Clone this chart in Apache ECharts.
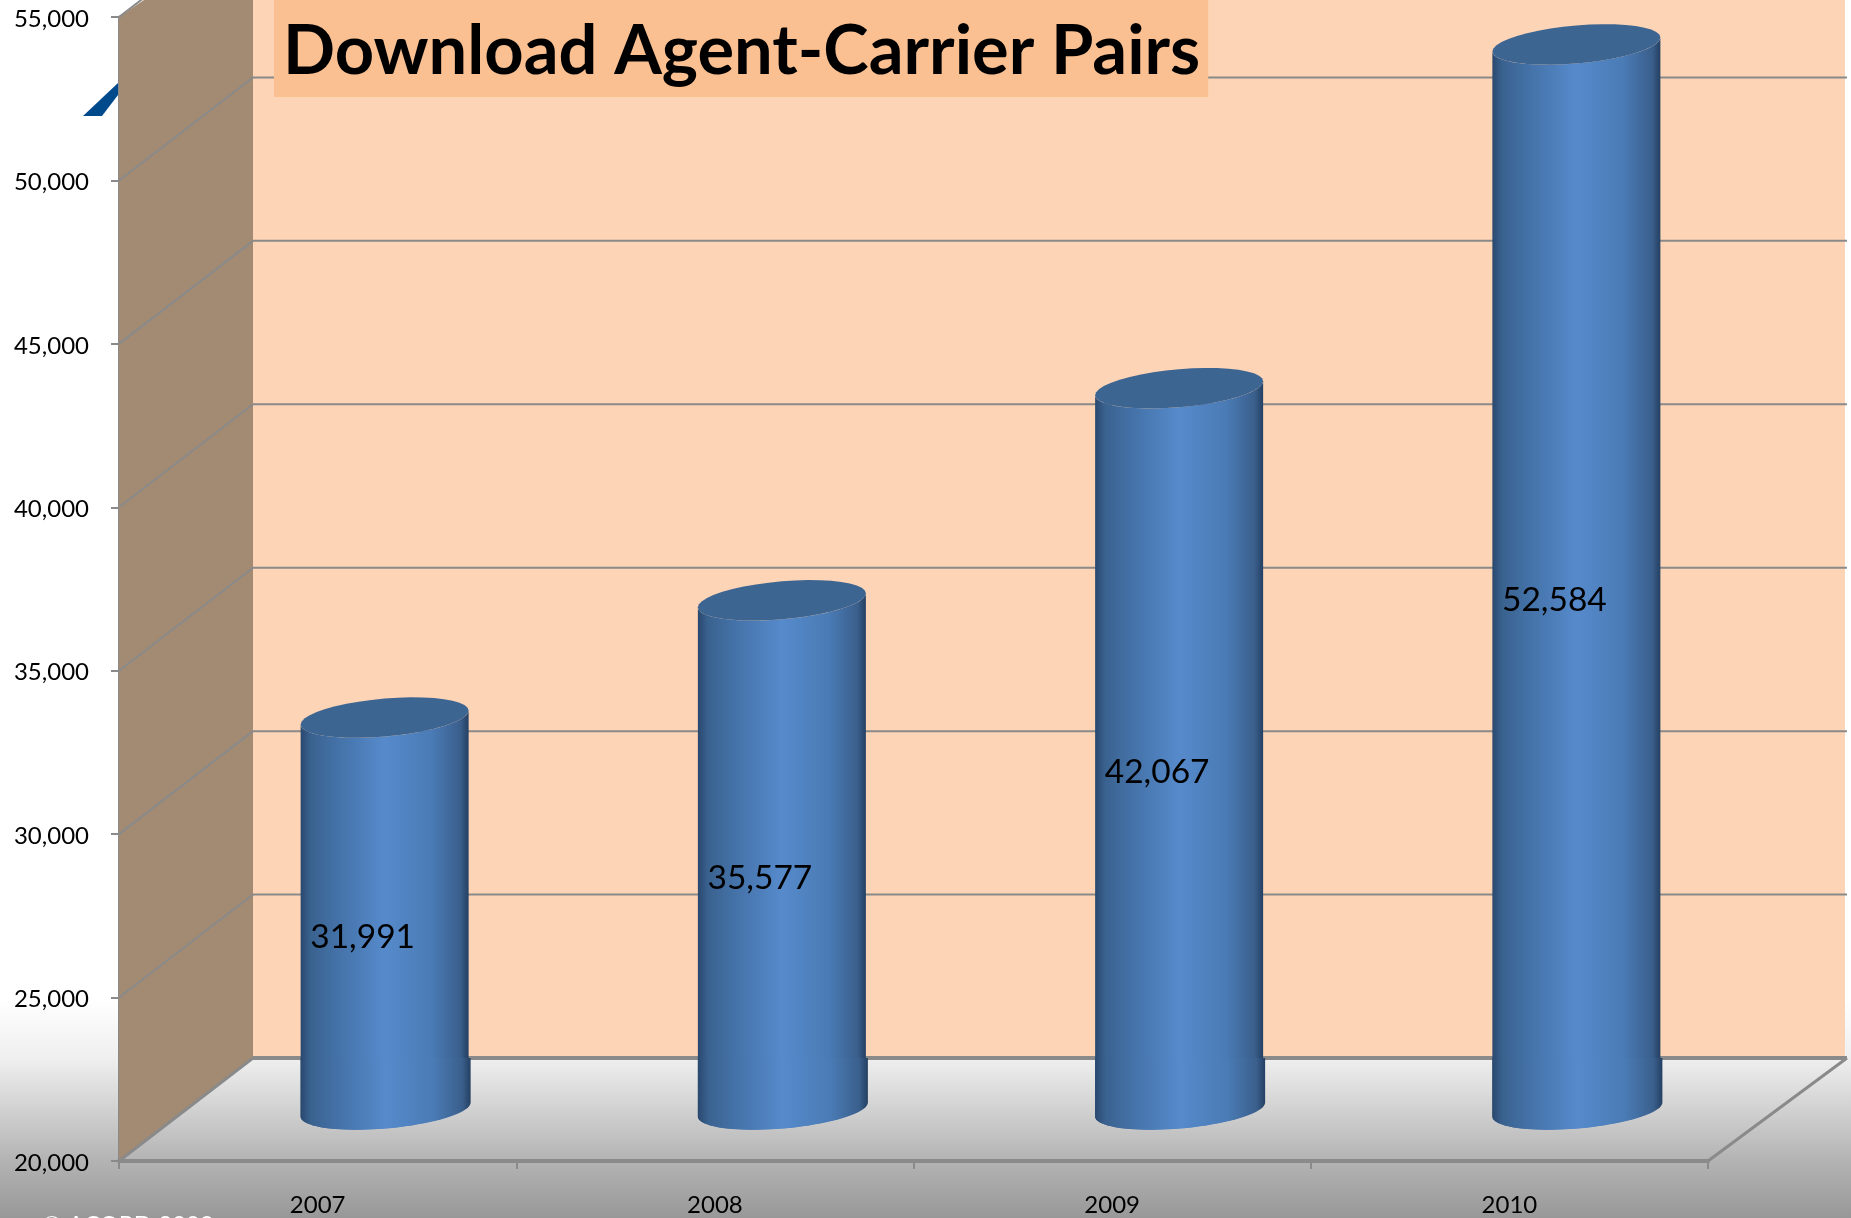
<!DOCTYPE html>
<html>
<head>
<meta charset="utf-8">
<title>Download Agent-Carrier Pairs</title>
<script src="https://cdn.jsdelivr.net/npm/echarts@6/dist/echarts.min.js"></script>
<style>
html, body { margin: 0; padding: 0; width: 100%; height: 100%; overflow: hidden; }
#chart { width: 1851px; height: 1218px; }
</style>
</head>
<body>
<div id="chart"></div>
<script>
const years = ['2007', '2008', '2009', '2010'];
const pairs = [31991, 35577, 42067, 52584];
const yTicks = [20000, 25000, 30000, 35000, 40000, 45000, 50000, 55000, 60000];

// depth of the fake 3d box, in pixels
const depthX = 134;
const depthXRight = 139;
const depthY = 103;
const LINE = '#8a8a8a';

const myChart = echarts.init(document.getElementById('chart'));

function ellipsePoints(cx, cy, from, to, halfWidth) {
    const a = halfWidth || 84;
    const pts = [];
    for (let i = 0; i <= 40; i++) {
        const t = from + (to - from) * i / 40;
        pts.push([cx + a * Math.cos(t), cy - 7 * Math.cos(t) + 19 * Math.sin(t)]);
    }
    return pts;
}

function renderBox(params, api) {
    const band = api.size([1, 0])[0];
    const frontLeft = api.coord([0, 20000])[0] - band / 2;
    const frontRight = frontLeft + band * years.length;
    const floorY = api.coord([0, 20000])[1];
    const backLeft = frontLeft + depthX;
    const backRight = frontRight + depthXRight;
    const backY = floorY - depthY;
    const top = api.coord([0, 55000])[1];
    const line = (x1, y1, x2, y2, w) => ({
        type: 'line',
        shape: { x1, y1, x2, y2 },
        style: { stroke: LINE, lineWidth: w || 2 }
    });
    const children = [
        {
            type: 'rect',
            shape: { x: backLeft, y: 0, width: backRight - 2 - backLeft, height: backY },
            style: { fill: '#fdd4b6' }
        },
        {
            type: 'polygon',
            shape: { points: [[frontLeft, floorY], [backLeft, backY], [backLeft, 0], [frontLeft + 25, 0], [frontLeft, top]] },
            style: { fill: '#a38a72' }
        }
    ];
    yTicks.forEach((v) => {
        const y = api.coord([0, v])[1];
        if (v > 20000) {
            children.push(line(frontLeft, y, backLeft, y - depthY));
            children.push(line(backLeft, y - depthY, backRight, y - depthY));
        }
    });
    children.push(line(frontLeft, floorY, backLeft, backY, 3));
    children.push(line(frontRight, floorY, backRight, backY, 3));
    children.push(line(backLeft, backY, backRight, backY, 4));
    return { type: 'group', children: children };
}

function renderCylinder(params, api) {
    const floor = api.coord([api.value(0), 20000]);
    const head = api.coord([api.value(0), api.value(1)]);
    const x = floor[0] + depthX / 2;
    const baseY = floor[1] - depthY / 2;
    const topY = head[1] - depthY / 2;
    const backY = floor[1] - depthY;
    const body = ellipsePoints(x, baseY, 0, Math.PI).concat(ellipsePoints(x, topY, Math.PI, 0));
    // the part standing on the floor sticks out a little to the right
    const foot = ellipsePoints(x + 1, baseY, 0, Math.PI, 85).concat([[x - 84, backY], [x + 86, backY]]);
    const sideFill = () => new echarts.graphic.LinearGradient(0, 0, 1, 0, [
        { offset: 0, color: '#29486f' },
        { offset: 0.06, color: '#3a628f' },
        { offset: 0.22, color: '#4472a8' },
        { offset: 0.5, color: '#568acb' },
        { offset: 0.78, color: '#4a7bb5' },
        { offset: 0.95, color: '#3a5f8c' },
        { offset: 1, color: '#243f62' }
    ]);
    return {
        type: 'group',
        children: [
            { type: 'polygon', shape: { points: body }, style: { fill: sideFill() } },
            { type: 'polygon', shape: { points: foot }, style: { fill: sideFill() } },
            {
                type: 'polygon',
                shape: { points: ellipsePoints(x, topY, 0, Math.PI * 2) },
                style: { fill: '#3d6592' }
            },
            {
                type: 'text',
                style: {
                    x: x - 22,
                    y: (floor[1] + head[1]) / 2 - 28,
                    text: echarts.format.addCommas(api.value(1)),
                    font: '33.5px Lato',
                    fill: '#000',
                    align: 'center',
                    verticalAlign: 'middle'
                }
            }
        ]
    };
}

const option = {
    animation: false,
    backgroundColor: new echarts.graphic.LinearGradient(0, 0, 0, 1, [
        { offset: 0, color: '#ffffff' },
        { offset: 0.82, color: '#ffffff' },
        { offset: 0.869, color: '#efefef' },
        { offset: 0.952, color: '#b4b4b4' },
        { offset: 1, color: '#989898' }
    ]),
    title: {
        text: 'Download Agent-Carrier Pairs',
        left: 274,
        top: 0,
        padding: [15, 8, 9, 9],
        backgroundColor: '#fbc091',
        textStyle: { fontFamily: 'Lato', fontWeight: 'bold', fontSize: 68.6, color: '#000', lineHeight: 73 }
    },
    grid: { left: 119, right: 143, top: 17, bottom: 57 },
    xAxis: {
        type: 'category',
        data: years,
        axisLine: { lineStyle: { color: LINE, width: 4 } },
        axisTick: { show: true, length: 8, lineStyle: { color: LINE, width: 2 } },
        axisLabel: { color: '#000', fontFamily: 'Lato', fontSize: 24, margin: 32 }
    },
    yAxis: {
        type: 'value',
        min: 20000,
        max: 55000,
        interval: 5000,
        splitLine: { show: false },
        axisLine: { show: true, lineStyle: { color: LINE, width: 3 } },
        axisTick: { show: true, length: 8, lineStyle: { color: LINE, width: 2 } },
        // top + small lineHeight pushes the text a bit below the tick
        axisLabel: { color: '#000', fontFamily: 'Lato', fontSize: 24, margin: 30, verticalAlign: 'top', lineHeight: 4 }
    },
    graphic: [
        {
            type: 'polygon',
            z: 0,
            shape: { points: [[83, 116], [102, 116], [118, 95], [118, 83]] },
            style: { fill: '#004a8c' }
        },
        {
            type: 'text',
            left: 42,
            top: 1213,
            style: { text: '\u00a9 ACORD 2009', font: '24px Lato', fill: '#fff' }
        }
    ],
    series: [
        {
            type: 'custom',
            renderItem: renderBox,
            data: [[0, 20000]],
            encode: { x: 0, y: 1 },
            clip: false,
            silent: true,
            z: 1
        },
        {
            type: 'custom',
            name: 'Download Agent-Carrier Pairs',
            renderItem: renderCylinder,
            data: pairs.map((v, i) => [i, v]),
            encode: { x: 0, y: 1 },
            clip: false,
            z: 3
        }
    ]
};

myChart.setOption(option);

window.addEventListener('resize', () => {
    myChart.resize();
});
</script>
</body>
</html>
